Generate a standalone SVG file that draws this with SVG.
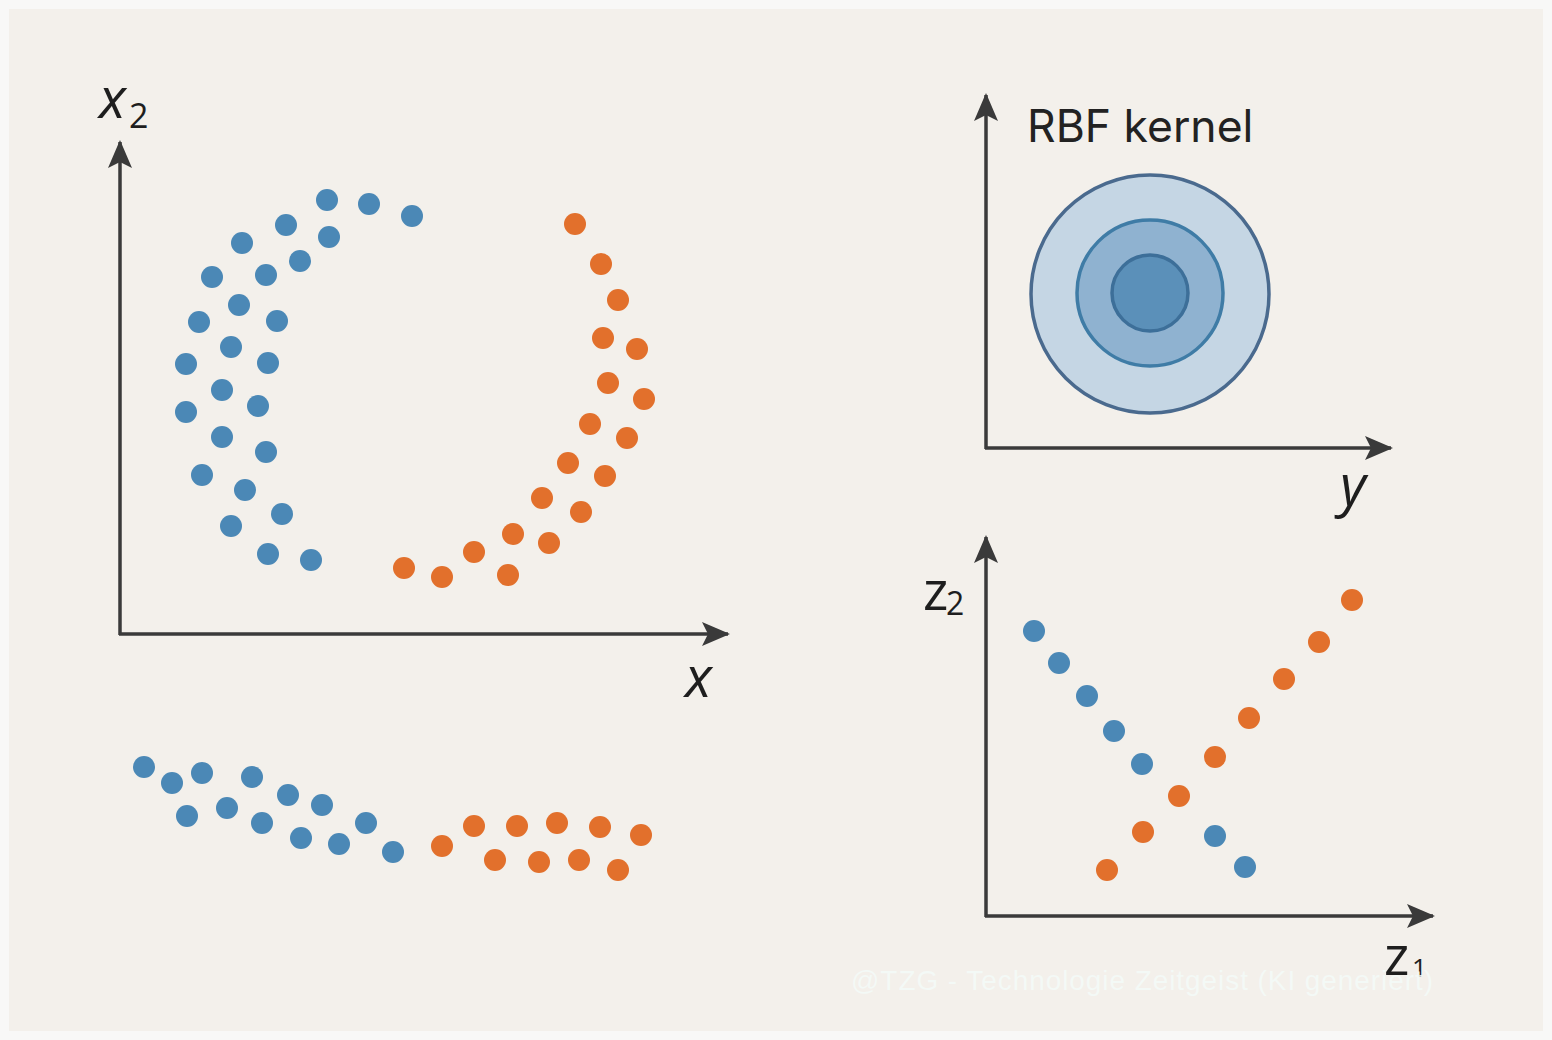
<svg xmlns="http://www.w3.org/2000/svg" width="1552" height="1040" viewBox="0 0 1552 1040">
<defs>
<marker id="arr" markerUnits="userSpaceOnUse" markerWidth="30" markerHeight="24" refX="26" refY="12" orient="auto">
<path d="M0,0 L28,12 L0,24 L6,12 Z" fill="#3a3a3a"/>
</marker>
<style>
.ax{stroke:#3a3a3a;stroke-width:3.5;fill:none;marker-end:url(#arr)}
.b{fill:#4b88b6}
.o{fill:#e2702c}
.lbl{font-family:"Open Sans","DejaVu Sans",sans-serif;fill:#1e1e1e;font-style:italic}
.up{font-family:"Open Sans","DejaVu Sans",sans-serif;fill:#1e1e1e}
</style>
</defs>
<rect x="0" y="0" width="1552" height="1040" fill="#f8f8f7"/>
<rect x="9" y="9" width="1534" height="1022" fill="#f3f0eb"/>

<g id="connectors">
<line class="ax" x1="120" y1="635" x2="120" y2="142"/>
<line class="ax" x1="119" y1="634" x2="728" y2="634"/>
<line class="ax" x1="986" y1="449" x2="986" y2="95"/>
<line class="ax" x1="985" y1="448" x2="1391" y2="448"/>
<line class="ax" x1="986" y1="917" x2="986" y2="537"/>
<line class="ax" x1="985" y1="916" x2="1433" y2="916"/>
</g>

<g id="labels">
<text class="lbl" x="99" y="118" font-size="56">x</text><text class="up" x="129" y="128" font-size="34">2</text>
<text class="lbl" x="685" y="697" font-size="56">x</text>
<text class="lbl" x="1340" y="505" font-size="56">y</text>
<text class="up" x="923" y="610" font-size="54">z</text><text class="up" x="946" y="615" font-size="32">2</text>
<text class="up" x="1384" y="975" font-size="54">z</text><text class="up" x="1412" y="977" font-size="26">1</text>
<text x="1027" y="142" font-family="Inter,'Liberation Sans',sans-serif" font-size="44.5" fill="#222">RBF kernel</text>
</g>

<g id="rbf">
<circle cx="1150" cy="294" r="119" fill="#c5d6e4" stroke="#4a6a8e" stroke-width="3.5"/>
<circle cx="1150" cy="293" r="73" fill="#8fb2d0" stroke="#3f7ca6" stroke-width="3.5"/>
<circle cx="1150" cy="293" r="38" fill="#5b90b9" stroke="#3d6f99" stroke-width="3.5"/>
</g>

<g id="moons">
<g class="b">
<circle cx="327" cy="200" r="11"/><circle cx="369" cy="204" r="11"/><circle cx="412" cy="216" r="11"/>
<circle cx="286" cy="225" r="11"/><circle cx="242" cy="243" r="11"/><circle cx="212" cy="277" r="11"/>
<circle cx="199" cy="322" r="11"/><circle cx="186" cy="364" r="11"/><circle cx="186" cy="412" r="11"/>
<circle cx="202" cy="475" r="11"/><circle cx="231" cy="526" r="11"/><circle cx="268" cy="554" r="11"/>
<circle cx="311" cy="560" r="11"/>
<circle cx="329" cy="237" r="11"/><circle cx="300" cy="261" r="11"/><circle cx="266" cy="275" r="11"/>
<circle cx="239" cy="305" r="11"/><circle cx="277" cy="321" r="11"/><circle cx="231" cy="347" r="11"/>
<circle cx="268" cy="363" r="11"/><circle cx="222" cy="390" r="11"/><circle cx="258" cy="406" r="11"/>
<circle cx="222" cy="437" r="11"/><circle cx="266" cy="452" r="11"/><circle cx="245" cy="490" r="11"/>
<circle cx="282" cy="514" r="11"/>
</g>
<g class="o">
<circle cx="575" cy="224" r="11"/><circle cx="601" cy="264" r="11"/><circle cx="618" cy="300" r="11"/>
<circle cx="603" cy="338" r="11"/><circle cx="637" cy="349" r="11"/><circle cx="608" cy="383" r="11"/>
<circle cx="644" cy="399" r="11"/><circle cx="590" cy="424" r="11"/><circle cx="627" cy="438" r="11"/>
<circle cx="568" cy="463" r="11"/><circle cx="605" cy="476" r="11"/><circle cx="542" cy="498" r="11"/>
<circle cx="581" cy="512" r="11"/><circle cx="513" cy="534" r="11"/><circle cx="549" cy="543" r="11"/>
<circle cx="474" cy="552" r="11"/><circle cx="508" cy="575" r="11"/><circle cx="404" cy="568" r="11"/>
<circle cx="442" cy="577" r="11"/>
</g>
</g>

<g id="strip">
<g class="b">
<circle cx="144" cy="767" r="11"/><circle cx="172" cy="783" r="11"/><circle cx="202" cy="773" r="11"/>
<circle cx="252" cy="777" r="11"/><circle cx="288" cy="795" r="11"/><circle cx="322" cy="805" r="11"/>
<circle cx="187" cy="816" r="11"/><circle cx="227" cy="808" r="11"/><circle cx="262" cy="823" r="11"/>
<circle cx="301" cy="838" r="11"/><circle cx="339" cy="844" r="11"/><circle cx="366" cy="823" r="11"/>
<circle cx="393" cy="852" r="11"/>
</g>
<g class="o">
<circle cx="442" cy="846" r="11"/><circle cx="474" cy="826" r="11"/><circle cx="517" cy="826" r="11"/>
<circle cx="557" cy="823" r="11"/><circle cx="600" cy="827" r="11"/><circle cx="641" cy="835" r="11"/>
<circle cx="495" cy="860" r="11"/><circle cx="539" cy="862" r="11"/><circle cx="579" cy="860" r="11"/>
<circle cx="618" cy="870" r="11"/>
</g>
</g>

<g id="feature">
<g class="b">
<circle cx="1034" cy="631" r="11"/><circle cx="1059" cy="663" r="11"/><circle cx="1087" cy="696" r="11"/>
<circle cx="1114" cy="731" r="11"/><circle cx="1142" cy="764" r="11"/><circle cx="1215" cy="836" r="11"/>
<circle cx="1245" cy="867" r="11"/>
</g>
<g class="o">
<circle cx="1107" cy="870" r="11"/><circle cx="1143" cy="832" r="11"/><circle cx="1179" cy="796" r="11"/>
<circle cx="1215" cy="757" r="11"/><circle cx="1249" cy="718" r="11"/><circle cx="1284" cy="679" r="11"/>
<circle cx="1319" cy="642" r="11"/><circle cx="1352" cy="600" r="11"/>
</g>
</g>

<text id="watermark" x="851" y="990" font-family="'Liberation Sans',Arial,sans-serif" font-size="28" fill="#f4fbf8" opacity="0.85" textLength="582">@TZG - Technologie Zeitgeist (KI generiert)</text>
</svg>
